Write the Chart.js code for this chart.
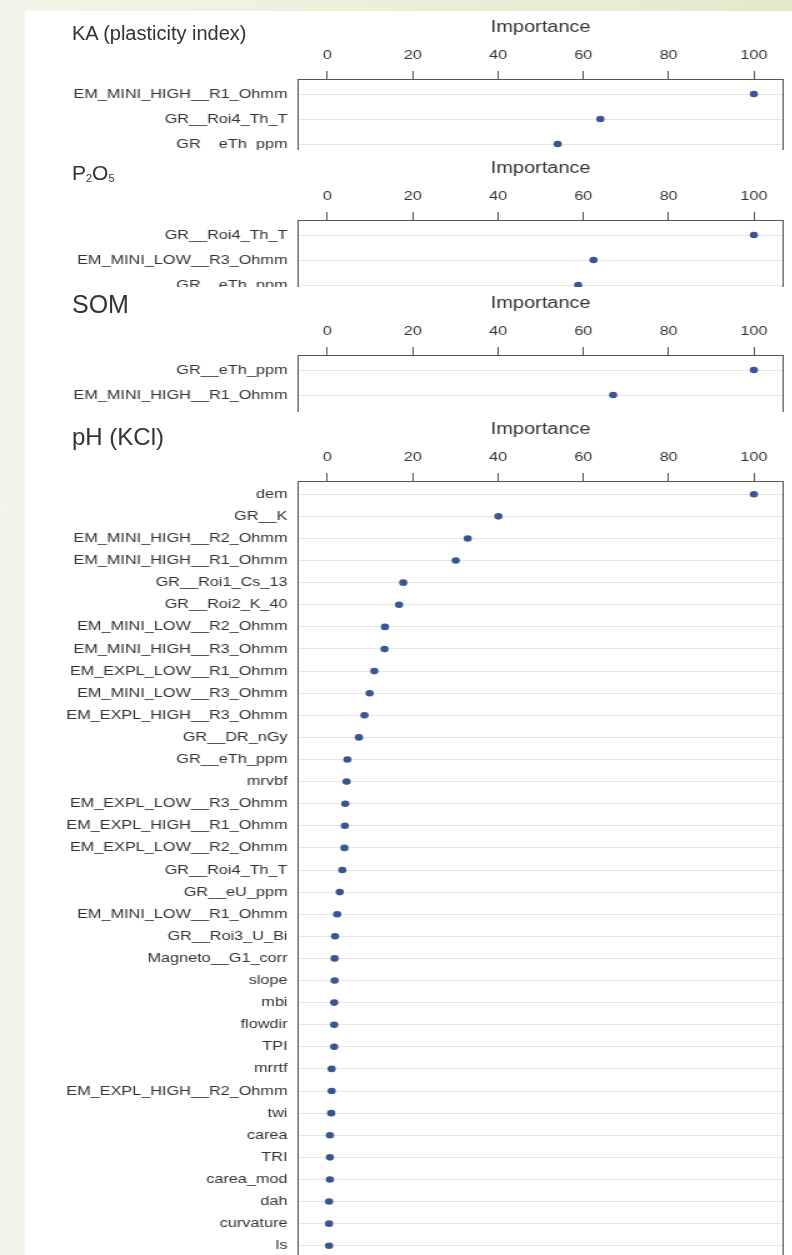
<!DOCTYPE html>
<html>
<head>
<meta charset="utf-8">
<title>Variable importance</title>
<script src="https://cdn.jsdelivr.net/npm/chart.js@4.4.1/dist/chart.umd.min.js"></script>
<style>
  html, body { margin: 0; padding: 0; }
  body {
    width: 792px; height: 1255px; overflow: hidden; position: relative;
    background: linear-gradient(90deg, #f3f5ea 0%, #ebf0da 45%, #e2eacb 100%);
    font-family: 'Liberation Sans', Arial, sans-serif;
  }
  .panel { position: absolute; left: 25px; width: 767px; overflow: hidden; background: #fff; }
  .plot { position: absolute; left: 0; transform: scaleX(1.25); transform-origin: 0 0; }
  .title { position: absolute; left: 47px; color: #333; line-height: 1; white-space: nowrap; }
  .title sub { font-size: 0.52em; vertical-align: -0.18em; }
</style>
</head>
<body>
  <div class="panel" style="top:11px;height:139px">
    <div class="plot" style="top:0"><canvas id="kaChart"></canvas></div>
    <div class="title" style="top:12px;font-size:20px">KA (plasticity index)</div>
  </div>
  <div class="panel" style="top:150px;height:137px">
    <div class="plot" style="top:2px"><canvas id="p2o5Chart"></canvas></div>
    <div class="title" style="top:12px;font-size:21px">P<sub>2</sub>O<sub>5</sub></div>
  </div>
  <div class="panel" style="top:287px;height:125px">
    <div class="plot" style="top:0"><canvas id="somChart"></canvas></div>
    <div class="title" style="top:5px;font-size:25px">SOM</div>
  </div>
  <div class="panel" style="top:412px;height:843px">
    <div class="plot" style="top:1px"><canvas id="phChart"></canvas></div>
    <div class="title" style="top:13px;font-size:24px">pH (KCl)</div>
  </div>

<script>
const importanceTicks = [0, 20, 40, 60, 80, 100];

const kaLabels = ['EM_MINI_HIGH__R1_Ohmm', 'GR__Roi4_Th_T', 'GR__eTh_ppm'];
const kaValues = [100, 64, 54];

const p2o5Labels = ['GR__Roi4_Th_T', 'EM_MINI_LOW__R3_Ohmm', 'GR__eTh_ppm'];
const p2o5Values = [100, 62.4, 58.8];

const somLabels = ['GR__eTh_ppm', 'EM_MINI_HIGH__R1_Ohmm'];
const somValues = [100, 67];

const phLabels = [
    'dem', 'GR__K', 'EM_MINI_HIGH__R2_Ohmm', 'EM_MINI_HIGH__R1_Ohmm', 'GR__Roi1_Cs_13',
    'GR__Roi2_K_40', 'EM_MINI_LOW__R2_Ohmm', 'EM_MINI_HIGH__R3_Ohmm', 'EM_EXPL_LOW__R1_Ohmm',
    'EM_MINI_LOW__R3_Ohmm', 'EM_EXPL_HIGH__R3_Ohmm', 'GR__DR_nGy', 'GR__eTh_ppm', 'mrvbf',
    'EM_EXPL_LOW__R3_Ohmm', 'EM_EXPL_HIGH__R1_Ohmm', 'EM_EXPL_LOW__R2_Ohmm', 'GR__Roi4_Th_T',
    'GR__eU_ppm', 'EM_MINI_LOW__R1_Ohmm', 'GR__Roi3_U_Bi', 'Magneto__G1_corr', 'slope', 'mbi',
    'flowdir', 'TPI', 'mrrtf', 'EM_EXPL_HIGH__R2_Ohmm', 'twi', 'carea', 'TRI', 'carea_mod',
    'dah', 'curvature', 'ls'
];
const phValues = [
    100, 40.1, 32.9, 30.1, 17.8, 16.8, 13.5, 13.4, 11.0, 9.9, 8.7, 7.4, 4.7, 4.5,
    4.2, 4.1, 4.0, 3.5, 2.9, 2.3, 1.8, 1.7, 1.7, 1.6, 1.6, 1.6, 1.0, 1.0, 0.9,
    0.6, 0.6, 0.6, 0.4, 0.4, 0.4
];

// draws the closed frame round the plot region, like lattice does
const frameBox = {
    id: 'frameBox',
    beforeDatasetsDraw(chart) {
        const a = chart.chartArea;
        const ctx = chart.ctx;
        ctx.save();
        ctx.strokeStyle = '#555';
        ctx.lineWidth = 1;
        ctx.strokeRect(Math.round(a.left) + 0.5, Math.round(a.top) + 0.5,
            Math.round(a.right - a.left) - 1, Math.round(a.bottom - a.top) - 1);
        ctx.restore();
    }
};

function makeDotplot(canvasId, labels, values, rowGap, rowsShown) {
    const canvas = document.getElementById(canvasId);
    const yMax = rowsShown - 0.4;
    canvas.width = 614;
    canvas.height = Math.round(68 + (yMax + 0.6) * rowGap + 1);

    return new Chart(canvas, {
        type: 'scatter',
        data: {
            datasets: [{
                data: values.map((v, i) => ({ x: v, y: i })),
                backgroundColor: '#365892',
                borderWidth: 0,
                pointRadius: 3.3
            }]
        },
        options: {
            responsive: false,
            animation: false,
            layout: { padding: { top: 3, right: 7, bottom: 1, left: 0 } },
            plugins: {
                legend: { display: false },
                tooltip: { enabled: false }
            },
            scales: {
                x: {
                    type: 'linear',
                    position: 'top',
                    min: -7,
                    max: 107,
                    afterBuildTicks: axis => { axis.ticks = importanceTicks.map(v => ({ value: v })); },
                    afterFit: axis => {
                        axis.height = 65;
                        axis.paddingLeft = 0;
                        axis.paddingRight = 0;
                    },
                    grid: { drawOnChartArea: false, drawTicks: true, tickLength: 8, color: '#555' },
                    border: { display: false },
                    ticks: { padding: 8, color: '#333', font: { size: 13 }, maxRotation: 0 },
                    title: {
                        display: true,
                        text: 'Importance',
                        color: '#333',
                        font: { size: 16 },
                        padding: { top: 4, bottom: 0 }
                    }
                },
                y: {
                    type: 'linear',
                    reverse: true,
                    min: -0.6,
                    max: yMax,
                    afterBuildTicks: axis => { axis.ticks = labels.map((_, i) => ({ value: i })); },
                    afterFit: axis => {
                        axis.width = 218;
                        axis.paddingTop = 0;
                        axis.paddingBottom = 0;
                    },
                    grid: { color: '#e6e6e6', drawTicks: false },
                    border: { display: false },
                    ticks: {
                        padding: 8,
                        color: '#333',
                        font: { size: 13 },
                        autoSkip: false,
                        callback: v => labels[v]
                    }
                }
            }
        },
        plugins: [frameBox]
    });
}

Chart.defaults.font.family = "'Liberation Sans', Arial, sans-serif";

makeDotplot('kaChart', kaLabels, kaValues, 25.5, 6);
makeDotplot('p2o5Chart', p2o5Labels, p2o5Values, 25.5, 6);
makeDotplot('somChart', somLabels, somValues, 25.5, 6);
makeDotplot('phChart', phLabels, phValues, 22.18, phLabels.length);
</script>
</body>
</html>
